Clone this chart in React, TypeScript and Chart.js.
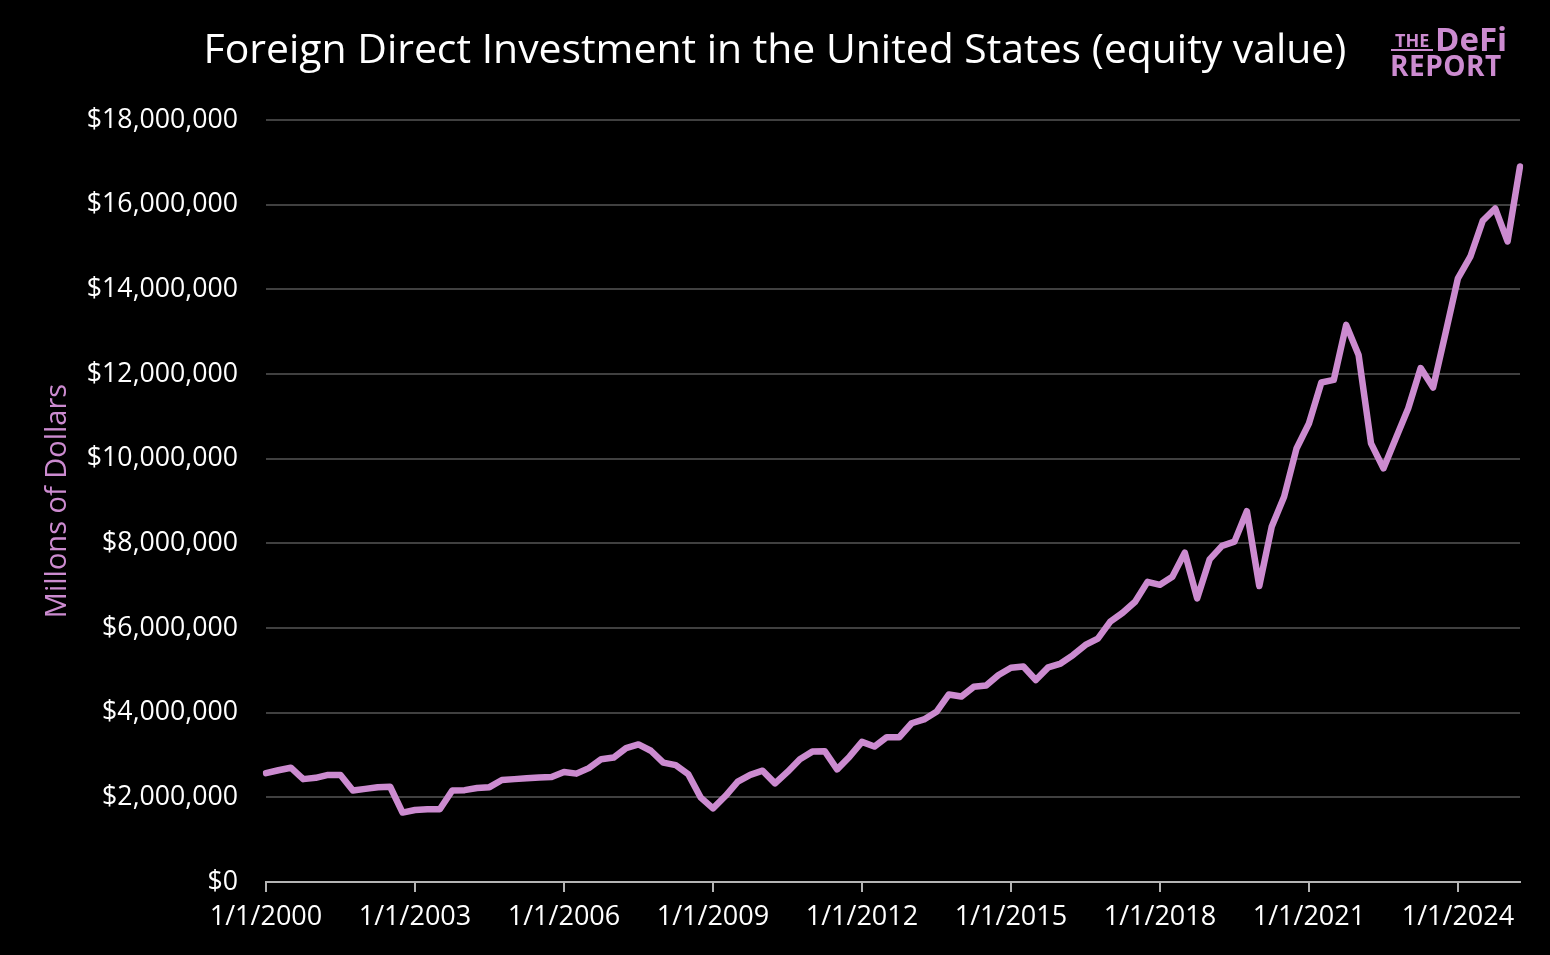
import React, { useEffect, useRef } from "react";
import { Chart, registerables } from "chart.js";

Chart.register(...registerables);

const TITLE = "Foreign Direct Investment in the United States (equity value)";
const Y_TITLE = "Millons of Dollars";
const YEARS = [2000, 2001, 2002, 2003, 2004, 2005, 2006, 2007, 2008, 2009, 2010, 2011, 2012, 2013, 2014, 2015, 2016, 2017, 2018, 2019, 2020, 2021, 2022, 2023, 2024, 2025];
const QUARTER_STARTS = ["1/1", "4/1", "7/1", "10/1"];
const LAST_INDEX = 101;

// Quarterly equity value (as shown on the axis, in "millions of dollars")
const VALUES = [
  2570000, 2640000, 2700000, 2430000, 2460000, 2530000, 2530000, 2160000, 2200000, 2240000,
  2250000, 1640000, 1700000, 1720000, 1720000, 2160000, 2170000, 2220000, 2240000, 2410000,
  2430000, 2450000, 2470000, 2480000, 2600000, 2560000, 2690000, 2900000, 2940000, 3160000,
  3250000, 3100000, 2820000, 2760000, 2550000, 2000000, 1740000, 2030000, 2370000, 2530000,
  2630000, 2330000, 2600000, 2900000, 3080000, 3090000, 2660000, 2960000, 3310000, 3200000,
  3420000, 3420000, 3750000, 3840000, 4020000, 4430000, 4380000, 4610000, 4640000, 4890000,
  5060000, 5090000, 4770000, 5070000, 5160000, 5360000, 5600000, 5750000, 6150000, 6360000,
  6620000, 7090000, 7020000, 7210000, 7780000, 6700000, 7620000, 7940000, 8040000, 8760000,
  6990000, 8390000, 9100000, 10240000, 10830000, 11800000, 11860000, 13160000, 12450000, 10360000,
  9770000, 10480000, 11190000, 12140000, 11680000, 12960000, 14260000, 14770000, 15620000, 15910000,
  15130000, 16900000,
];

const Y_MIN = 0;
const Y_MAX = 18000000;
const Y_STEP = 2000000;
const X_LABEL_EVERY = 12;

const LINE_COLOR = "#cc8bd0";
const FONT = "'Open Sans', 'Noto Sans', sans-serif";

const LABELS: string[] = [];
YEARS.forEach((y) => QUARTER_STARTS.forEach((q) => LABELS.push(`${q}/${y}`)));
const CATEGORIES = LABELS.slice(0, LAST_INDEX + 1);

export default function App() {
  const ref = useRef<HTMLCanvasElement | null>(null);

  useEffect(() => {
    document.body.style.margin = "0";
    document.body.style.background = "#000";
    if (!ref.current) return;
    const chart = new Chart(ref.current, {
      type: "line",
      data: {
        labels: CATEGORIES,
        datasets: [
          {
            data: VALUES,
            borderColor: LINE_COLOR,
            borderWidth: 6.5,
            pointRadius: 0,
            tension: 0,
            borderJoinStyle: "round",
            borderCapStyle: "round",
            fill: false,
          },
        ],
      },
      options: {
        responsive: false,
        animation: false,
        devicePixelRatio: 1,
        layout: { padding: { left: 30, right: 30, top: 0, bottom: 0 } },
        plugins: {
          legend: { display: false },
          tooltip: { enabled: false },
          title: {
            display: true,
            text: TITLE,
            color: "#ffffff",
            font: { family: FONT, size: 40.9, weight: "normal", lineHeight: 1.2 },
            padding: { top: 27, bottom: 43.9 },
          },
        },
        scales: {
          x: {
            type: "category",
            offset: false,
            afterFit: (s: any) => {
              s.height = 73;
            },
            grid: {
              display: true,
              drawOnChartArea: false,
              drawTicks: true,
              tickLength: 10,
              lineWidth: 2,
              color: (ctx: any) => (ctx.index % X_LABEL_EVERY === 0 ? "#b4b4b4" : "rgba(0,0,0,0)"),
            },
            border: { display: true, color: "#b4b4b4", width: 2 },
            ticks: {
              autoSkip: false,
              maxRotation: 0,
              minRotation: 0,
              padding: 9,
              color: "#ffffff",
              font: { family: FONT, size: 27 },
              callback: (_v: any, i: number) => (i % X_LABEL_EVERY === 0 ? CATEGORIES[i] : ""),
            },
          },
          y: {
            min: Y_MIN,
            max: Y_MAX,
            afterFit: (s: any) => {
              s.width = 236;
            },
            grid: { color: "#404040", lineWidth: 2, drawTicks: false },
            border: { display: false },
            ticks: {
              stepSize: Y_STEP,
              padding: 28,
              color: "#ffffff",
              font: { family: FONT, size: 26.7 },
              callback: (v: any) => "$" + Number(v).toLocaleString("en-US"),
            },
            title: {
              display: true,
              text: Y_TITLE,
              color: LINE_COLOR,
              font: { family: FONT, size: 29 },
              padding: { top: 10, bottom: 0 },
            },
          },
        },
      },
    });
    return () => chart.destroy();
  }, []);

  const logo: React.CSSProperties = {
    position: "absolute",
    color: LINE_COLOR,
    fontFamily: FONT,
    lineHeight: 1,
    whiteSpace: "nowrap",
  };

  return (
    <div style={{ position: "absolute", left: 0, top: 0, width: 1550, height: 955, background: "#000" }}>
      <canvas ref={ref} width={1550} height={955} style={{ display: "block" }} />
      <span style={{ ...logo, left: 1395, top: 31, fontSize: 18, fontWeight: 700 }}>THE</span>
      <div style={{ position: "absolute", left: 1391, top: 49, width: 42, height: 2, background: LINE_COLOR }} />
      <span style={{ ...logo, left: 1435, top: 22, fontSize: 33, fontWeight: 700 }}>DeFi</span>
      <span style={{ ...logo, left: 1390, top: 51, fontSize: 28, fontWeight: 700, letterSpacing: 0.5 }}>REPORT</span>
    </div>
  );
}
